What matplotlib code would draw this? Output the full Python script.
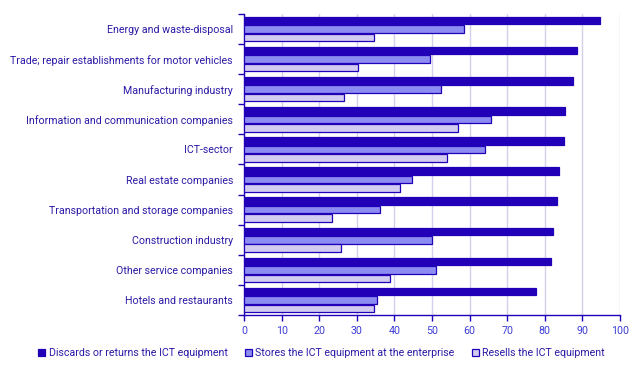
import matplotlib.pyplot as plt
import numpy as np

plt.rcParams['font.family'] = ['Roboto', 'DejaVu Sans']

categories = ['Energy and waste-disposal',
              'Trade; repair establishments for motor vehicles',
              'Manufacturing industry',
              'Information and communication companies',
              'ICT-sector',
              'Real estate companies',
              'Transportation and storage companies',
              'Construction industry',
              'Other service companies',
              'Hotels and restaurants']
discards = [94.7, 88.6, 87.5, 85.4, 85.1, 83.8, 83.3, 82.2, 81.7, 77.7]
stores = [58.4, 49.6, 52.3, 65.6, 64.2, 44.6, 36.3, 49.9, 51.0, 35.3]
resells = [34.7, 30.4, 26.7, 56.8, 53.9, 41.4, 23.5, 25.7, 38.7, 34.5]
series_names = ['Discards or returns the ICT equipment',
                'Stores the ICT equipment at the enterprise',
                'Resells the ICT equipment']

dark = '#2200b8'
textc = '#2a1aa6'
colors = [dark, '#8c8cf2', '#d2ccf0']

fig = plt.figure(figsize=(6.43, 3.73), dpi=100)
ax = fig.add_axes([244/643, 1-315/373, 376/643, 301/373])

y = np.arange(len(categories))
h = 0.28
for i, (vals, c, name) in enumerate(zip([discards, stores, resells], colors, series_names)):
    ax.barh(y - h + i*h, vals, height=h-0.03, color=c,
            edgecolor=dark, linewidth=0.9, label=name, zorder=3)

ax.set_xlim(0, 100)
ax.set_ylim(len(categories)-0.5, -0.5)
ax.set_xticks(range(0, 101, 10))
ax.set_yticks(y)
ax.set_yticklabels(categories)
ax.set_yticks(np.arange(-0.5, len(categories), 1), minor=True)
ax.tick_params(axis='y', which='major', length=0, pad=8, labelsize=7.7, labelcolor=textc)
ax.tick_params(axis='y', which='minor', length=4, width=1, color=dark)
ax.tick_params(axis='x', length=4, width=1, color=dark, labelsize=7.7, labelcolor='#3c3cd8', pad=4)
ax.grid(axis='x', color='#d4d0ec', linewidth=1, zorder=0)
for s in ['top', 'right']:
    ax.spines[s].set_visible(False)
for s in ['left', 'bottom']:
    ax.spines[s].set_color(dark)
    ax.spines[s].set_linewidth(1)

fig.legend(loc='center', bbox_to_anchor=(0.5, 1-353/373), ncol=3, frameon=False,
           fontsize=7.7, handlelength=0.7, handleheight=0.7, handletextpad=0.3,
           columnspacing=1.6, labelcolor=textc)

fig.savefig('out.png', dpi=100)
